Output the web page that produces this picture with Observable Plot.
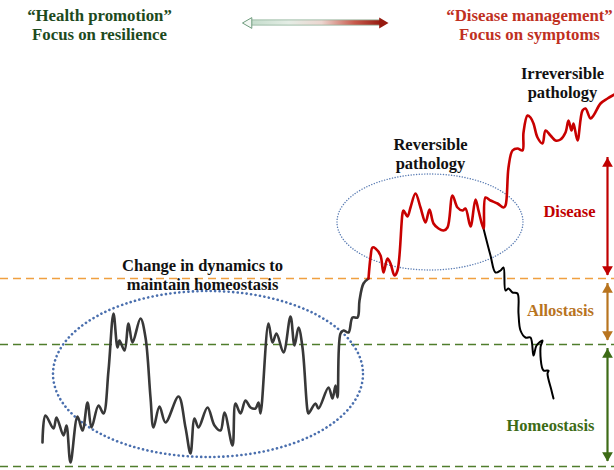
<!DOCTYPE html>
<html><head><meta charset="utf-8">
<script src="https://cdn.jsdelivr.net/npm/d3@7"></script>
<script src="https://cdn.jsdelivr.net/npm/@observablehq/plot@0.6"></script>
<style>body{margin:0;background:#fff} #chart svg{display:block}</style>
</head><body><div id="chart"></div>
<script>
// ---- Data (x position, "level" = height above bottom) ----
const homeostasisX = [42,45,53,56,63,66,70,77,82,87,91,98,103,108,113,117,119,124,128,132,140,145,150,153,159,165,178,185,190,194,198,207,214,220,224,232,235,240,245,250,255,258,260,268,272,276,283,290,294,298,302,307,308,315,318,328,332,335,337,340,343,348,352,357,359,363,368];
const homeostasisLevel = [28,55,42,53,35,45,8,54,40,68,43,65,57,100,157,123,130,120,147,128,152,133,73,43,64,48,74,43,17,52,43,63,45,40,58,25,67,57,70,63,62,68,57,147,128,137,118,154,125,143,123,60,57,67,62,83,72,85,73,137,140,138,153,153,170,187,192];

const pathologyX = [368,370,372,375,380,383,387,390,394,397,402,403,407,410,415,420,425,429,433,438,443,447,452,457,462,465,470,475,478,483,485,490,497,503,505,508,512,517,522,523,527,530,533,537,542,545,550,555,560,565,568,571,573,577,582,585,590,593,600,607,614];
const pathologyLevel = [192,213,223,222,215,198,212,207,195,200,257,260,254,263,277,263,248,261,247,242,240,243,275,263,260,262,244,271,260,242,273,270,267,263,265,303,320,322,320,338,355,353,347,333,327,340,335,330,331,338,350,340,347,330,360,362,352,355,367,372,376];

const recoveryX = [483,490,495,500,503,505,508,512,517,518,520,525,530,533,536,542,540,543,548,547,551,553];
const recoveryLevel = [242,215,198,200,203,180,182,178,177,157,140,133,133,115,125,130,123,100,100,97,80,72];

const thresholds = [
  {level: 192, color: "#f0a040"},
  {level: 126, color: "#4f7d2c"},
  {level: 4,   color: "#4f7d2c"}
];

const bands = [
  {name: "Disease",     top: 313, bottom: 195, color: "#c00000", labelX: 569, labelLevel: 259},
  {name: "Allostasis",  top: 187, bottom: 130, color: "#b8741f", labelX: 560, labelLevel: 160},
  {name: "Homeostasis", top: 122, bottom: 9,   color: "#3d6b16", labelX: 550, labelLevel: 45}
];

const headers = [
  {text: "\u201cHealth promotion\u201d\nFocus on resilience", x: 99, level: 446, color: "#1d4a1d"},
  {text: "\u201cDisease management\u201d\nFocus on symptoms", x: 529, level: 446, color: "#c0301f"}
];

const annotations = [
  {text: "Change in dynamics to\nmaintain homeostasis", x: 202, level: 196},
  {text: "Reversible\npathology", x: 430, level: 317},
  {text: "Irreversible\npathology", x: 562, level: 388}
];

const topArrow = [{x1: 242, x2: 388, level: 447.5}];

const ellipses = [
  {cx: 208, cy: 96, rx: 155, ry: 83},
  {cx: 430, cy: 248, rx: 93, ry: 48}
];

// ---- helpers ----
const ns = "http://www.w3.org/2000/svg";
const series = (xs, ys) => xs.map((x, i) => ({x, level: ys[i]}));

function defsMark() {
  return () => {
    const defs = document.createElementNS(ns, "defs");
    const g = document.createElementNS(ns, "linearGradient");
    g.setAttribute("id", "topgrad");
    g.setAttribute("x1", "0"); g.setAttribute("x2", "1");
    g.setAttribute("y1", "0"); g.setAttribute("y2", "0");
    [[0, "#c3dccb"], [0.3, "#e4ede5"], [0.55, "#ecd6d0"], [0.8, "#c85a4c"], [1, "#961a10"]].forEach(([o, c]) => {
      const s = document.createElementNS(ns, "stop");
      s.setAttribute("offset", o); s.setAttribute("stop-color", c);
      g.appendChild(s);
    });
    defs.appendChild(g);
    return defs;
  };
}

function ellipseMark(spec, style) {
  return (index, scales) => {
    const el = document.createElementNS(ns, "ellipse");
    const cx = scales.x(spec.cx), cy = scales.y(spec.cy);
    el.setAttribute("cx", cx);
    el.setAttribute("cy", cy);
    el.setAttribute("rx", Math.abs(scales.x(spec.cx + spec.rx) - cx));
    el.setAttribute("ry", Math.abs(scales.y(spec.cy + spec.ry) - cy));
    el.setAttribute("fill", "none");
    for (const [k, v] of Object.entries(style)) el.setAttribute(k, v);
    return el;
  };
}

const font = "Liberation Serif, Times New Roman, serif";

const chart = Plot.plot({
  width: 614,
  height: 470,
  margin: 0,
  x: {domain: [0, 614], axis: null},
  y: {domain: [0, 470], axis: null},
  color: {type: "identity"},
  style: {background: "#fff", fontFamily: font},
  marks: [
    defsMark(),
    Plot.ruleY(thresholds, {y: "level", stroke: "color", strokeWidth: 1.5, strokeDasharray: "8 5"}),
    ellipseMark(ellipses[0], {stroke: "#4a6fae", "stroke-width": 2.6, "stroke-dasharray": "0.1 4.4", "stroke-linecap": "round"}),
    ellipseMark(ellipses[1], {stroke: "#5a7cb3", "stroke-width": 1.4, "stroke-dasharray": "0.1 2.6", "stroke-linecap": "round"}),
    Plot.line(series(homeostasisX, homeostasisLevel), {x: "x", y: "level", stroke: "#383838", strokeWidth: 2.6, curve: "catmull-rom"}),
    Plot.line(series(recoveryX, recoveryLevel), {x: "x", y: "level", stroke: "#000", strokeWidth: 2, curve: "catmull-rom"}),
    Plot.line(series(pathologyX, pathologyLevel), {x: "x", y: "level", stroke: "#c80000", strokeWidth: 2.6, curve: "catmull-rom"}),
    Plot.ruleX(bands, {x: 607, y1: "top", y2: "bottom", stroke: "color", strokeWidth: 2.2}),
    Plot.dot(bands, {x: 607, y: "top", symbol: "triangle", r: 4, fill: "color", dy: 6.2}),
    Plot.dot(bands, {x: 607, y: "bottom", symbol: "triangle", rotate: 180, r: 4, fill: "color", dy: -6.2}),
    Plot.text(bands, {x: "labelX", y: "labelLevel", text: "name", fill: "color", fontSize: 16.5, fontWeight: "bold", fontFamily: font}),
    Plot.rect(topArrow, {x1: "x1", x2: "x2", y1: d => d.level - 2.6, y2: d => d.level + 2.6, insetLeft: 7, insetRight: 7, fill: "url(#topgrad)", stroke: "#8fb39a", strokeWidth: 0.8}),
    Plot.dot(topArrow, {x: "x1", y: "level", symbol: "triangle", rotate: -90, r: 4, fill: "#f4f8f4", stroke: "#6f9c7e", strokeWidth: 1, dx: 6.2}),
    Plot.dot(topArrow, {x: "x2", y: "level", symbol: "triangle", rotate: 90, r: 4, fill: "#961a10", dx: -6.2}),
    Plot.text(headers, {x: "x", y: "level", text: "text", fill: "color", fontSize: 16.8, fontWeight: "bold", lineHeight: 1.12, fontFamily: font}),
    Plot.text(annotations, {x: "x", y: "level", text: "text", fill: "#111", fontSize: 16.5, fontWeight: "bold", lineHeight: 1.15, fontFamily: font})
  ]
});
document.getElementById("chart").appendChild(chart);
</script>
</body></html>
